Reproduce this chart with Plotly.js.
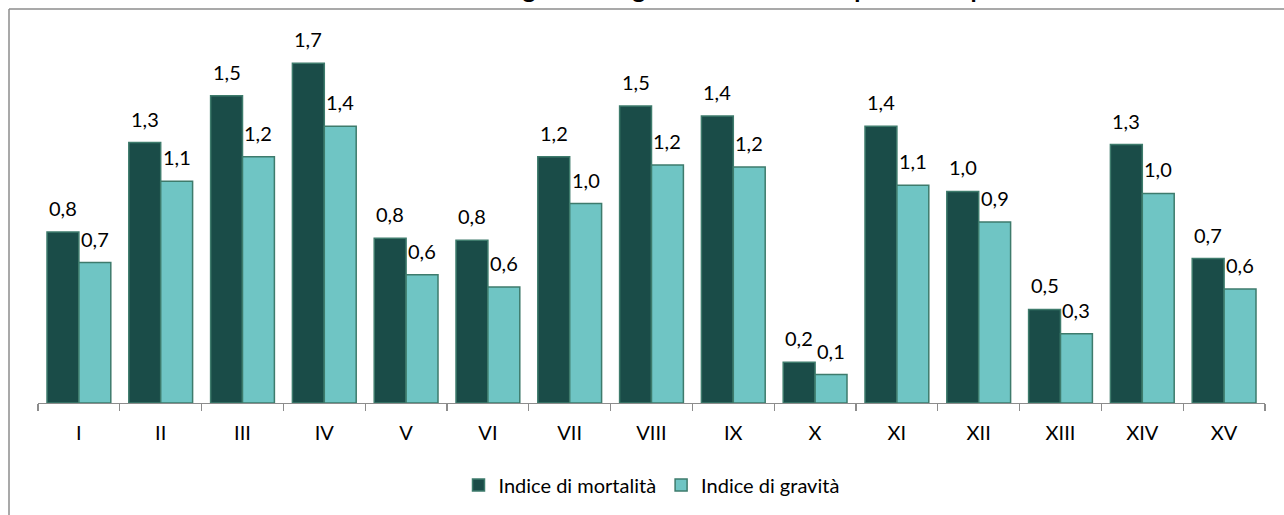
<!DOCTYPE html>
<html>
<head>
<meta charset="utf-8">
<script src="https://cdn.plot.ly/plotly-3.0.1.min.js"></script>
<style>
  html, body { margin: 0; padding: 0; background: #ffffff; }
  #chart { width: 1284px; height: 515px; }
</style>
</head>
<body>
<div id="chart"></div>
<script>
const categories = ['I','II','III','IV','V','VI','VII','VIII','IX','X','XI','XII','XIII','XIV','XV'];
const mortalita = [0.84, 1.28, 1.51, 1.67, 0.81, 0.80, 1.21, 1.46, 1.41, 0.20, 1.36, 1.04, 0.46, 1.27, 0.71];
const gravita   = [0.69, 1.09, 1.21, 1.36, 0.63, 0.57, 0.98, 1.17, 1.16, 0.14, 1.07, 0.89, 0.34, 1.03, 0.56];
const seriesNames = ['Indice di mortalità', 'Indice di gravità'];
const titleText = 'Indice di mortalità e gravità degli incidenti stradali per municipio';

const W = 1284, H = 515;
const mL = 38, mR = 19, mT = 20, mB = 111;
const plotW = W - mL - mR, plotH = H - mT - mB;
const yMax = plotH / 204;
const bargap = 0.22;
const barW = plotW / categories.length * (1 - bargap) / 2;

const fmt = v => v.toFixed(1).replace('.', ',');
const FONT = 'Lato, "Open Sans", sans-serif';
const FS = 20;

const darkFill = '#1a4c48', lightFill = '#6fc5c4', outline = '#3e7b6c';

const traces = [
  { type: 'bar', name: seriesNames[0], x: categories, y: mortalita,
    marker: { color: darkFill, line: { color: outline, width: 1.5 } }, hoverinfo: 'skip' },
  { type: 'bar', name: seriesNames[1], x: categories, y: gravita,
    marker: { color: lightFill, line: { color: outline, width: 1.5 } }, hoverinfo: 'skip' }
];

const annotations = [];
categories.forEach((c, i) => {
  annotations.push({ x: c, y: mortalita[i], xref: 'x', yref: 'y', text: fmt(mortalita[i]),
    showarrow: false, xshift: -barW / 2, yshift: 10, yanchor: 'bottom',
    font: { family: FONT, size: FS, color: '#000' } });
  annotations.push({ x: c, y: gravita[i], xref: 'x', yref: 'y', text: fmt(gravita[i]),
    showarrow: false, xshift: barW / 2, yshift: 10, yanchor: 'bottom',
    font: { family: FONT, size: FS, color: '#000' } });
});
// title, almost entirely cut off at the top edge as in the reference
annotations.push({ text: '<b>' + titleText + '</b>', xref: 'paper', yref: 'paper',
  x: (650 - mL) / plotW, y: (H - mB + 12) / plotH, xanchor: 'center', yanchor: 'middle',
  showarrow: false, font: { family: FONT, size: 25, color: '#000' } });

const borderX = (9 - mL) / plotW;
const borderY = (H - mB - 9) / plotH;

const layout = {
  width: W, height: H,
  margin: { l: mL, r: mR, t: mT, b: mB, pad: 0 },
  paper_bgcolor: '#ffffff', plot_bgcolor: '#ffffff',
  barmode: 'group', bargap: bargap, bargroupgap: 0,
  showlegend: true,
  legend: { orientation: 'h', x: 0.5, xanchor: 'center', y: (H - mB - 485) / plotH, yanchor: 'middle',
    font: { family: FONT, size: FS, color: '#000' }, itemwidth: 30, traceorder: 'normal' },
  xaxis: { type: 'category', showline: true, linecolor: '#8c8c8c', linewidth: 1.3,
    ticks: 'outside', tickson: 'boundaries', ticklen: 7, tickcolor: '#8c8c8c', tickwidth: 1.3,
    ticklabelstandoff: 12,
    tickfont: { family: FONT, size: FS, color: '#000' }, showgrid: false, zeroline: false,
    fixedrange: true },
  yaxis: { range: [0, yMax], visible: false, showgrid: false, zeroline: false, fixedrange: true },
  annotations: annotations,
  shapes: [
    { type: 'line', xref: 'paper', yref: 'paper', x0: borderX, x1: 1.2, y0: borderY, y1: borderY,
      line: { color: '#8c8c8c', width: 1.5 } },
    { type: 'line', xref: 'paper', yref: 'paper', x0: borderX, x1: borderX, y0: borderY, y1: -0.5,
      line: { color: '#8c8c8c', width: 1.5 } }
  ],
  hovermode: false
};

Plotly.newPlot('chart', traces, layout, { displayModeBar: false, staticPlot: true });
</script>
</body>
</html>
